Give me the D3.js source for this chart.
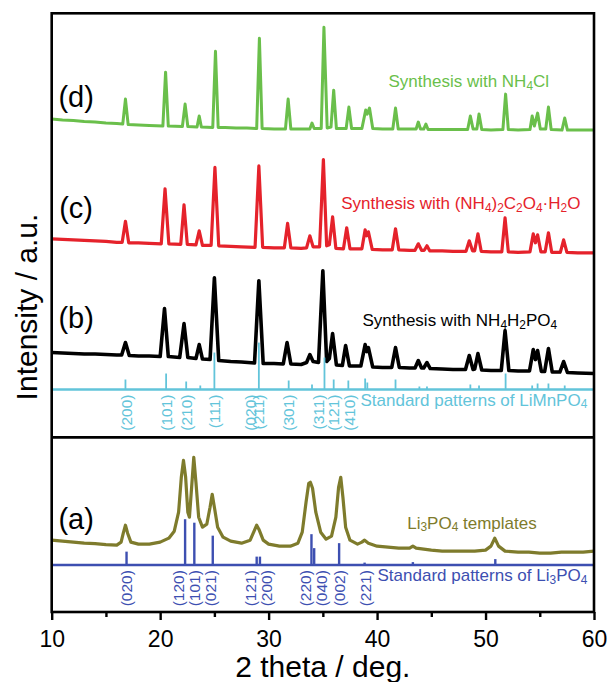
<!DOCTYPE html>
<html>
<head>
<meta charset="utf-8">
<script src="https://cdn.jsdelivr.net/npm/d3@7"></script>
<style>
  body { margin: 0; background: #fff; }
  svg text { font-family: "Liberation Sans", Arial, sans-serif; }
</style>
</head>
<body>
<div id="chart"></div>
<script>
// 2 theta (deg) / intensity (a.u.), each pattern relative to its own baseline
const patternD = [[10,28],[11,26],[12,25],[13,23],[14,22],[15,20],[16,19],[16.55,18],[16.8,68],[17.05,17],[18,16],[19,15],[20.25,14],[20.5,122],[20.75,14],[22.05,13],[22.3,58],[22.55,13],[23.4,12],[23.6,34],[23.8,12],[24.85,11],[25.1,164],[25.35,11],[26,11],[27,10],[28,10],[28.9,9],[29.15,190],[29.4,9],[30.5,8],[31.55,8],[31.8,68],[32.05,8],[33,8],[33.8,8],[34.0,20],[34.2,9],[34.85,9],[35.1,212],[35.4,10],[35.75,12],[36.0,86],[36.25,9],[37.15,9],[37.4,52],[37.65,9],[38.6,9],[38.95,46],[39.1,38],[39.3,50],[39.6,9],[40.5,8],[41.45,8],[41.7,50],[41.95,8],[43,8],[43.6,8],[43.8,22],[44.0,8],[44.3,8],[44.5,18],[44.7,7],[46,7],[47,7],[48.35,7],[48.6,34],[48.85,8],[49.2,8],[49.4,38],[49.65,7],[50.5,6],[51.6,7],[51.85,78],[52.1,7],[53,6],[54.1,7],[54.3,34],[54.5,14],[54.8,40],[55.05,8],[55.55,8],[55.8,52],[56.05,7],[57.05,6],[57.3,30],[57.55,6],[58.5,6],[60,6]];

const patternC = [[10,38],[11,37],[12,36],[13,35],[14,34],[15,33],[16,31],[16.5,31],[16.8,73],[17.1,30],[18,30],[19,29],[20.1,28],[20.45,138],[20.8,28],[21.9,27],[22.2,106],[22.5,27],[23.3,26],[23.6,54],[23.9,25],[24.7,25],[25.05,181],[25.4,24],[26.5,23],[27.5,22],[28.75,21],[29.1,184],[29.45,21],[30.5,20],[31.45,20],[31.75,69],[32.05,20],[33,19],[33.5,20],[33.8,44],[34.1,22],[34.7,22],[35.05,197],[35.35,24],[35.6,26],[35.9,82],[36.2,19],[36.9,18],[37.2,60],[37.5,18],[38.6,18],[38.9,56],[39.05,44],[39.2,52],[39.55,17],[40.5,16],[41.4,16],[41.7,58],[42.0,16],[43,15],[43.5,15],[43.8,28],[44.1,15],[44.35,15],[44.6,24],[44.85,14],[46,14],[47,13],[48.2,13],[48.5,34],[48.8,14],[49.0,14],[49.3,48],[49.6,13],[50.5,12],[51.5,12],[51.8,80],[52.1,12],[53,11],[54.1,12],[54.4,48],[54.6,30],[54.8,46],[55.1,12],[55.5,12],[55.8,50],[56.1,11],[56.9,11],[57.2,36],[57.5,11],[58.5,10],[60,10]];

const patternB = [[10,50],[11,49],[12,48],[13,47],[14,47],[15,46],[16,45],[16.45,45],[16.8,70],[17.15,44],[18,43],[19,43],[20.0,42],[20.4,138],[20.75,42],[21.8,40],[22.2,108],[22.55,40],[23.3,38],[23.6,66],[23.9,37],[24.6,36],[25.0,200],[25.4,34],[26.5,32],[27.5,31],[28.7,29],[29.1,194],[29.5,28],[30.5,28],[31.35,27],[31.7,70],[32.05,27],[33,26],[33.5,30],[33.8,46],[34.1,32],[34.6,30],[35.0,214],[35.35,32],[35.6,38],[35.9,88],[36.25,25],[36.8,24],[37.1,64],[37.45,23],[38.5,23],[38.9,66],[39.05,52],[39.2,60],[39.6,21],[40.5,20],[41.35,20],[41.7,60],[42.05,20],[43,19],[43.5,19],[43.8,34],[44.1,19],[44.3,19],[44.6,30],[44.9,18],[46,17],[47,16],[48.15,16],[48.5,44],[48.85,16],[49.0,17],[49.3,48],[49.65,15],[50.5,14],[51.45,14],[51.8,94],[52.15,14],[53,13],[54.05,13],[54.4,56],[54.6,36],[54.8,54],[55.15,12],[55.45,12],[55.8,58],[56.15,11],[56.85,11],[57.2,32],[57.55,10],[58.5,9],[60,8]];

const patternA = [[10,34],[11,32],[12,30],[13,28],[14,27],[15,25],[16,24],[16.4,30],[16.6,48],[16.8,64],[17.0,48],[17.3,30],[18,26],[19,26],[20,30],[20.8,38],[21.3,52],[21.7,90],[21.95,160],[22.15,194],[22.35,160],[22.55,90],[22.7,80],[22.9,140],[23.1,200],[23.3,150],[23.55,80],[23.9,60],[24.3,66],[24.6,100],[24.8,126],[25.0,100],[25.3,60],[25.8,40],[26.5,32],[27.5,28],[28.3,34],[28.7,54],[28.9,64],[29.1,56],[29.5,34],[30,26],[31,22],[32,22],[32.7,28],[33.1,50],[33.45,110],[33.7,148],[33.85,150],[34.05,138],[34.35,90],[34.8,50],[35.3,36],[35.8,42],[36.2,80],[36.45,140],[36.65,160],[36.85,120],[37.1,60],[37.5,34],[38.2,26],[38.6,30],[38.85,34],[39.2,28],[40,22],[41,20],[42,18],[43,18],[43.3,22],[43.6,18],[45,14],[46,12],[47,12],[48,12],[49,12],[50,14],[50.5,22],[50.85,38],[51.2,22],[51.8,12],[53,10],[54,10],[55,8],[56,8],[57,10],[58,10],[59,10],[60,12]];

// reference sticks [2 theta, relative intensity]
const stdLiMnPO4 = [[16.8,20],[20.55,32],[22.4,16],[23.7,8],[25.0,74],[29.1,94],[31.85,18],[34.0,10],[35.15,64],[36.0,20],[37.35,18],[38.9,22],[39.1,14],[41.7,20],[43.9,6],[44.6,6],[48.6,10],[49.4,8],[51.85,32],[54.3,8],[54.8,12],[55.8,12],[57.3,8]];
const stdLi3PO4 = [[16.9,27],[22.3,92],[23.15,85],[24.85,59],[28.9,17],[29.2,17],[33.95,62],[34.2,34],[36.5,44],[38.85,5],[43.3,6],[50.9,12]];

// hkl labels, placed at 2 theta
const hklLiMnPO4 = [['(200)',16.86],['(101)',20.55],['(210)',22.4],['(111)',25.0],['(020)',28.3],['(211)',29.08],['(301)',31.85],['(311)',34.6],['(121)',35.95],['(410)',37.5]];
const hklLi3PO4 = [['(020)',16.86],['(120)',21.69],['(101)',23.14],['(021)',24.62],['(121)',28.3],['(200)',29.8],['(220)',33.4],['(040)',34.87],['(002)',36.5],['(221)',38.97]];

const xTicks = [10, 20, 30, 40, 50, 60];
const xMinor = [15, 25, 35, 45, 55];

const width = 608, height = 682;
const mLeft = 51.7, mRight = 594, mTop = 13.3, mBottom = 612;

const svg = d3.select('#chart').append('svg')
    .attr('width', width)
    .attr('height', height);

const x = d3.scaleLinear().domain([10, 60]).range([mLeft, mRight]);
const y = d3.scaleLinear().domain([0, 1200]).range([mBottom, mTop]);

// stacking offsets (a.u.)
const patterns = [
    {data: patternD, offset: 960, color: '#6abf4b', width: 3.0},
    {data: patternC, offset: 710, color: '#e5222b', width: 3.2},
    {data: patternB, offset: 470, color: '#000000', width: 3.6},
    {data: patternA, offset: 110, color: '#7e7b2c', width: 3.2}
];
const standards = [
    {data: stdLiMnPO4, offset: 446, color: '#62c4da', stick: 1.8, hkl: hklLiMnPO4},
    {data: stdLi3PO4, offset: 94, color: '#3d4fb1', stick: 2.4, hkl: hklLi3PO4}
];

const line = d3.line()
    .x(d => x(d[0]))
    .y(d => y(d[1]));

patterns.forEach(p => {
    svg.append('path')
        .datum(p.data.map(d => [d[0], d[1] + p.offset]))
        .attr('fill', 'none')
        .attr('stroke', p.color)
        .attr('stroke-width', p.width)
        .attr('stroke-linejoin', 'round')
        .attr('d', line);
});

standards.forEach(s => {
    svg.append('line')
        .attr('x1', x(10)).attr('x2', x(60))
        .attr('y1', y(s.offset)).attr('y2', y(s.offset))
        .attr('stroke', s.color)
        .attr('stroke-width', 2.5);

    svg.selectAll(null)
        .data(s.data)
        .enter()
        .append('line')
        .attr('x1', d => x(d[0])).attr('x2', d => x(d[0]))
        .attr('y1', y(s.offset)).attr('y2', d => y(s.offset + d[1]))
        .attr('stroke', s.color)
        .attr('stroke-width', s.stick);

    svg.selectAll(null)
        .data(s.hkl)
        .enter()
        .append('text')
        .attr('transform', d => 'translate(' + x(d[1]) + ',' + (y(s.offset) + 5) + ') rotate(-90)')
        .attr('dy', '0.35em')
        .attr('text-anchor', 'end')
        .attr('font-size', 15.5)
        .attr('fill', s.color)
        .text(d => d[0]);
});

// text with _n subscripts
function richText(sel, str) {
    const parts = str.split(/_(\d)/);
    parts.forEach((t, i) => {
        if (i % 2 == 1) {
            sel.append('tspan').attr('font-size', '70%').attr('dy', 2.5).text(t);
        } else if (t.length) {
            sel.append('tspan').attr('dy', i > 0 ? -2.5 : 0).text(t);
        }
    });
}

const notes = [
    {text: 'Synthesis with NH_4Cl', x: 41.05, v: 1052, color: '#6abf4b'},
    {text: 'Synthesis with (NH_4)_2C_2O_4·H_2O', x: 36.7, v: 807, color: '#e5222b'},
    {text: 'Synthesis with NH_4H_2PO_4', x: 38.65, v: 573, color: '#000000'},
    {text: 'Standard patterns of LiMnPO_4', x: 38.47, v: 413, color: '#62c4da'},
    {text: 'Li_3PO_4 templates', x: 42.78, v: 167, color: '#7e7b2c'},
    {text: 'Standard patterns of Li_3PO_4', x: 40.04, v: 62, color: '#3d4fb1'}
];
notes.forEach(n => {
    const t = svg.append('text')
        .attr('x', x(n.x))
        .attr('y', y(n.v))
        .attr('font-size', 17)
        .attr('fill', n.color);
    richText(t, n.text);
});

const tags = [['(d)', 1032], ['(c)', 811], ['(b)', 589], ['(a)', 186]];
svg.selectAll(null)
    .data(tags)
    .enter()
    .append('text')
    .attr('x', x(12.25))
    .attr('y', d => y(d[1]))
    .attr('dy', '0.35em')
    .attr('text-anchor', 'middle')
    .attr('font-size', 29)
    .text(d => d[0]);

// frame + panel divider
svg.append('rect')
    .attr('x', mLeft).attr('y', mTop)
    .attr('width', mRight - mLeft).attr('height', mBottom - mTop)
    .attr('fill', 'none')
    .attr('stroke', '#000')
    .attr('stroke-width', 2.6);
svg.append('line')
    .attr('x1', mLeft).attr('x2', mRight)
    .attr('y1', y(350)).attr('y2', y(350))
    .attr('stroke', '#000')
    .attr('stroke-width', 2.6);

const xAxis = d3.axisBottom(x).tickValues(xTicks).tickSize(8).tickPadding(11);
const gx = svg.append('g')
    .attr('transform', 'translate(0,' + mBottom + ')')
    .call(xAxis);
gx.select('.domain').remove();
gx.selectAll('line').attr('stroke-width', 2.4);
gx.selectAll('text').attr('font-size', 23).attr('fill', '#000');

const gm = svg.append('g')
    .attr('transform', 'translate(0,' + mBottom + ')')
    .call(d3.axisBottom(x).tickValues(xMinor).tickSize(5).tickFormat(''));
gm.select('.domain').remove();
gm.selectAll('line').attr('stroke-width', 2.4);

svg.append('text')
    .attr('x', (mLeft + mRight) / 2)
    .attr('y', 677)
    .attr('text-anchor', 'middle')
    .attr('font-size', 30)
    .text('2 theta / deg.');

svg.append('text')
    .attr('transform', 'translate(26,307) rotate(-90)')
    .attr('dy', '0.35em')
    .attr('text-anchor', 'middle')
    .attr('font-size', 30)
    .text('Intensity / a.u.');
</script>
</body>
</html>
